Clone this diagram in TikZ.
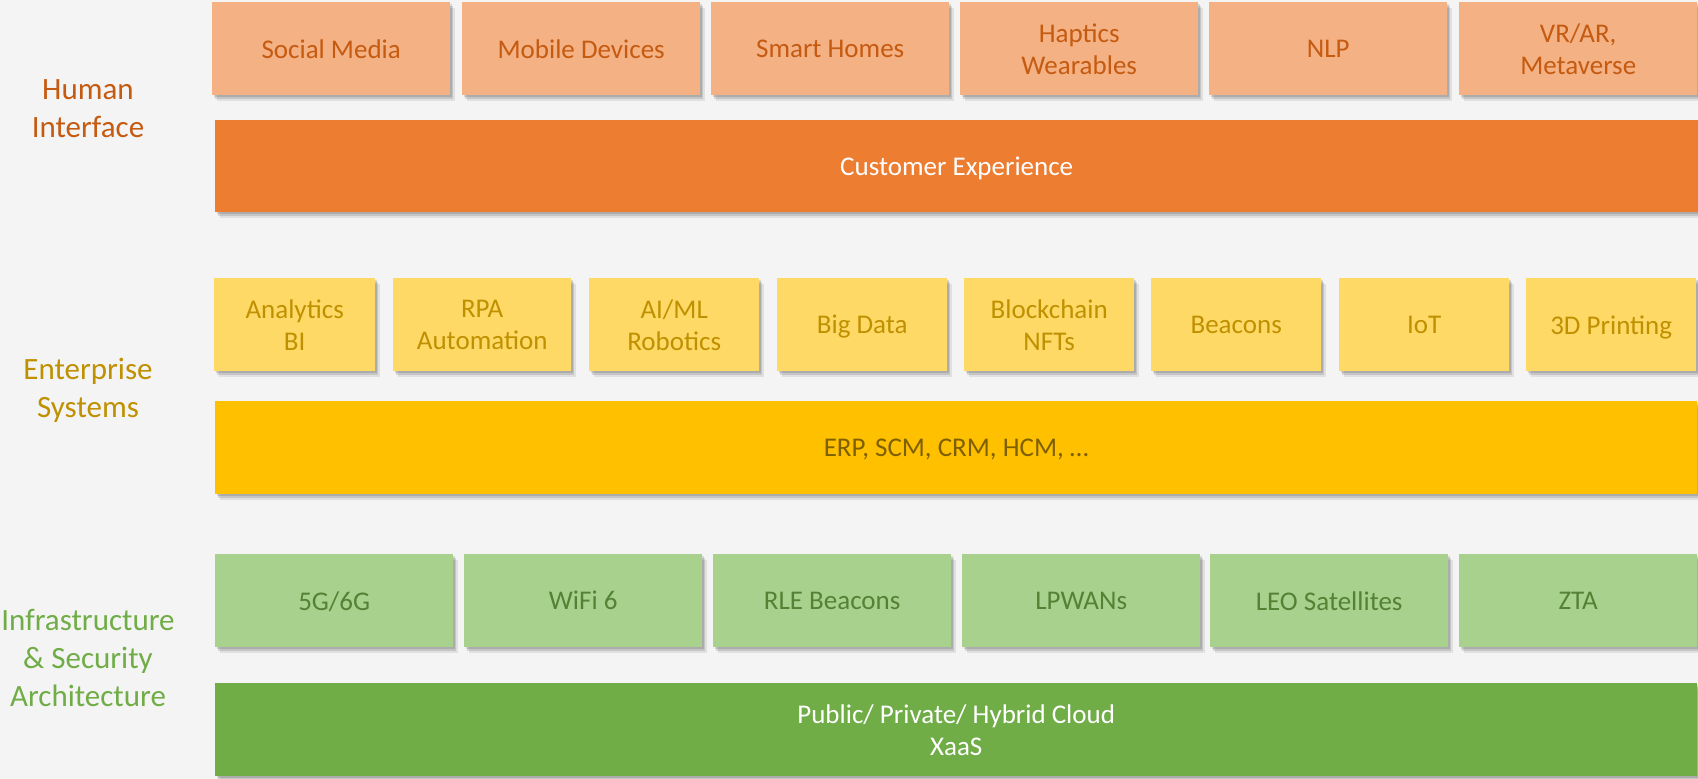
\documentclass[tikz,border=0pt]{standalone}
\usepackage{fontspec}
\setmainfont{Carlito}
\usetikzlibrary{shadows}
\definecolor{bggray}{HTML}{F4F4F4}
\definecolor{hilight}{HTML}{F4B183}
\definecolor{hidark}{HTML}{ED7D31}
\definecolor{hitext}{HTML}{C55A11}
\definecolor{eslight}{HTML}{FFD966}
\definecolor{esdark}{HTML}{FFC000}
\definecolor{estext}{HTML}{BF9000}
\definecolor{esbar}{HTML}{7F6000}
\definecolor{inlight}{HTML}{A9D18E}
\definecolor{indark}{HTML}{70AD47}
\definecolor{intext}{HTML}{548235}

\begin{document}
\begin{tikzpicture}[x=1pt, y=-1pt,
    softshadow/.style={
        drop shadow={shadow xshift=2pt, shadow yshift=-2pt, opacity=.12, fill=black},
        drop shadow={shadow xshift=3pt, shadow yshift=-4pt, opacity=.12, fill=black},
        drop shadow={shadow xshift=5pt, shadow yshift=-6pt, opacity=.08, fill=black}},
    tile/.style={anchor=north west, inner sep=0pt, align=center, minimum height=93pt,
        text depth=0pt, font=\fontsize{27}{32}\selectfont, softshadow},
    hitile/.style={tile, fill=hilight, text=hitext, minimum width=238pt},
    estile/.style={tile, fill=eslight, text=estext},
    intile/.style={tile, fill=inlight, text=intext, minimum width=238pt},
    layer/.style={align=center, font=\fontsize{31}{38}\selectfont}]
    \fill[bggray] (0,0) rectangle (1698,779);
    \useasboundingbox (0,0) rectangle (1698,779);

    % human interface
    \node[layer, text=hitext] (hilabel) at (88,109) {Human\\Interface};
    \foreach \x/\name/\txt in {212/sm/{Social Media}, 462/md/{Mobile Devices}, 711/sh/{Smart Homes},
                               960/hw/{Haptics\\Wearables}, 1209/nlp/{NLP}, 1459/vr/{VR/AR,\\Metaverse}}{
        \node[hitile] (\name) at (\x,2) {\txt};
    }
    \node[tile, fill=hidark, text=white, minimum width=1483pt, minimum height=92pt] (cx) at (215,120) {Customer Experience};

    % enterprise systems
    \node[layer, text=estext] (eslabel) at (88,390) {Enterprise\\Systems};
    \foreach \x/\w/\name/\txt in {214/161/an/{Analytics\\BI}, 393/178/rpa/{RPA\\Automation}, 589/170/ai/{AI/ML\\Robotics},
                                  777/170/bd/{Big Data}, 964/170/bc/{Blockchain\\NFTs}, 1151/170/bea/{Beacons},
                                  1339/170/iot/{IoT}, 1526/170/pr/{3D Printing}}{
        \node[estile, minimum width=\w pt] (\name) at (\x,278) {\txt};
    }
    \node[tile, fill=esdark, text=esbar, minimum width=1482pt] (erp) at (215,401) {ERP, SCM, CRM, HCM, \dots};

    % infrastructure & security
    \node[layer, text=indark] (inlabel) at (88,658) {Infrastructure\\\& Security\\Architecture};
    \foreach \x/\name/\txt in {215/g5/{5G/6G}, 464/wifi/{WiFi 6}, 713/rle/{RLE Beacons},
                               962/lp/{LPWANs}, 1210/leo/{LEO Satellites}, 1459/zta/{ZTA}}{
        \node[intile] (\name) at (\x,554) {\txt};
    }
    \node[tile, fill=indark, text=white, minimum width=1482pt] (cloud) at (215,683) {Public/ Private/ Hybrid Cloud\\XaaS};
\end{tikzpicture}
\end{document}
